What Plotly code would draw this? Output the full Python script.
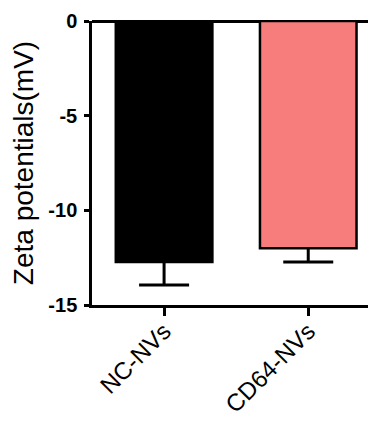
import plotly.graph_objects as go

categories = ["NC-NVs", "CD64-NVs"]
means = [-12.73, -12.0]
err = [1.22, 0.73]
bar_colors = ["#000000", "#F77C7C"]
y_ticks = [0, -5, -10, -15]
y_tick_text = ["<b>0</b>", "<b>-5</b>", "<b>-10</b>", "<b>-15</b>"]

fig = go.Figure()
# error bars (symmetric; upper half hidden behind the bars drawn next)
fig.add_trace(go.Bar(
    x=categories, y=means, width=0.67,
    marker=dict(color="rgba(0,0,0,0)", line=dict(width=0)),
    error_y=dict(type="data", array=err, color="#000000", thickness=3, width=25),
    hoverinfo="skip",
))
fig.add_trace(go.Bar(
    x=categories,
    y=means,
    width=0.67,
    marker=dict(color=bar_colors, line=dict(color="#000000", width=2.5)),
))

fig.update_layout(
    width=368, height=422,
    margin=dict(l=84, r=0, t=13, b=125),
    plot_bgcolor="white", paper_bgcolor="white",
    showlegend=False, barmode="overlay",
    font=dict(family="Liberation Sans, Arial, sans-serif", color="#000000"),
)
fig.update_xaxes(
    range=[-0.5, 1.47],
    showline=True, linecolor="#000000", linewidth=2.5,
    ticks="outside", ticklen=8, tickwidth=2.5, tickcolor="#000000",
    tickangle=-45, tickfont=dict(size=24), ticklabelstandoff=-8,
    showgrid=False, zeroline=False,
)
fig.update_yaxes(
    range=[-15, 0],
    tickvals=y_ticks, ticktext=y_tick_text,
    showline=True, linecolor="#000000", linewidth=2.5,
    ticks="outside", ticklen=5, tickwidth=2.5, tickcolor="#000000",
    tickfont=dict(size=20),
    ticklabelstandoff=3,
    title=dict(text="Zeta potentials(mV)", font=dict(size=28), standoff=10),
    showgrid=False, zeroline=True, zerolinecolor="#000000", zerolinewidth=2.5,
)

fig.write_html("out.html")
